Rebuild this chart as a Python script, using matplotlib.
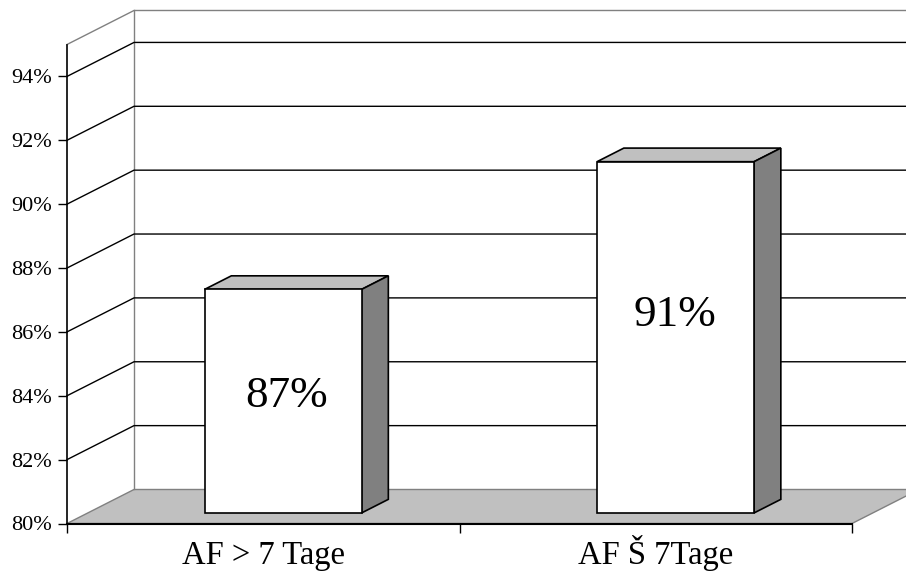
import matplotlib
matplotlib.use('Agg')
from matplotlib import pyplot as plt
from matplotlib.patches import Polygon

plt.rcParams['font.family'] = ['Liberation Serif', 'DejaVu Serif']

categories = ['AF > 7 Tage', 'AF Š 7Tage']
values = [87, 91]
bar_labels = ['87%', '91%']
y_ticks = [80, 82, 84, 86, 88, 90, 92, 94]
y_ticklabels = ['80%', '82%', '84%', '86%', '88%', '90%', '92%', '94%']

y_min = 80
y_max = 95
n_cat = len(categories)
bar_width = 0.4

# the fake 3d depth, in data units
depth_x = 67 / 392.5
depth_y = 34 / 31.93


def shift(x, y, d):
	# move a point d (0..1) towards the back of the box
	return (x + d * depth_x, y + d * depth_y)


fig = plt.figure(figsize=(9.06, 5.72), dpi=100)
ax = fig.add_axes([67 / 906, 1 - 523.5 / 572, 785 / 906, 479 / 572])
ax.set_xlim(0, n_cat)
ax.set_ylim(y_min, y_max)
ax.patch.set_visible(False)

# floor
ax.add_patch(Polygon([(0, y_min), (n_cat, y_min), shift(n_cat, y_min, 1), shift(0, y_min, 1)],
	closed=True, facecolor='#c0c0c0', edgecolor='#808080', lw=1, zorder=1, clip_on=False))

# walls outline
ax.plot([0, shift(0, y_max, 1)[0], shift(n_cat, y_max, 1)[0]],
	[y_max, shift(0, y_max, 1)[1], shift(n_cat, y_max, 1)[1]],
	color='#808080', lw=1, zorder=1, clip_on=False)
ax.plot([shift(0, y_min, 1)[0], shift(0, y_max, 1)[0]],
	[shift(0, y_min, 1)[1], shift(0, y_max, 1)[1]],
	color='#808080', lw=1, zorder=1, clip_on=False)

# gridlines, side wall then back wall
for tick in y_ticks[1:]:
	bx, by = shift(0, tick, 1)
	ax.plot([0, bx, shift(n_cat, tick, 1)[0]], [tick, by, by], color='black', lw=1, zorder=2, clip_on=False)

# bars
base_d = 0.31
top_d = 0.31 + 0.4
nudge = 0.0025
# the labels are not centred on the bars in the original
label_dx = [0.0085, -0.0005]
label_y = [83.65, 86.19]
for i, val in enumerate(values):
	x0 = i + 0.5 - bar_width / 2 - nudge
	x1 = i + 0.5 + bar_width / 2 - nudge
	base = y_min
	p1 = shift(x0, base, base_d)
	p2 = shift(x1, base, base_d)
	p3 = shift(x1, val, base_d)
	p4 = shift(x0, val, base_d)
	q2 = shift(x1, base, top_d)
	q3 = shift(x1, val, top_d)
	q4 = shift(x0, val, top_d)
	ax.add_patch(Polygon([p4, p3, q3, q4], closed=True, facecolor='#c0c0c0', edgecolor='black', lw=1.2, zorder=3, clip_on=False))
	ax.add_patch(Polygon([p2, q2, q3, p3], closed=True, facecolor='#808080', edgecolor='black', lw=1.2, zorder=3, clip_on=False))
	ax.add_patch(Polygon([p1, p2, p3, p4], closed=True, facecolor='white', edgecolor='black', lw=1.2, zorder=4, clip_on=False))
	ax.text((p1[0] + p2[0]) / 2 + label_dx[i], label_y[i], bar_labels[i], ha='center', va='baseline', fontsize=32.5, color='black', zorder=5)

# axes
for side in ['top', 'right']:
	ax.spines[side].set_visible(False)
ax.spines['left'].set_linewidth(1.2)
ax.spines['bottom'].set_linewidth(1.5)
ax.set_yticks(y_ticks)
ax.set_yticklabels(y_ticklabels, fontsize=16)
ax.tick_params(axis='y', length=6.5, width=1, pad=4.3)
ax.set_xticks(range(n_cat + 1))
ax.set_xticklabels([])
ax.set_xticks([i + 0.5 for i in range(n_cat)], minor=True)
ax.set_xticklabels(categories, minor=True, fontsize=23.5)
for lab in ax.get_xticklabels(minor=True):
	lab.set_verticalalignment('baseline')
ax.tick_params(axis='x', which='major', length=6.5, width=1)
ax.tick_params(axis='x', which='minor', length=0, pad=29.2)

fig.savefig('out.png', dpi=100)
